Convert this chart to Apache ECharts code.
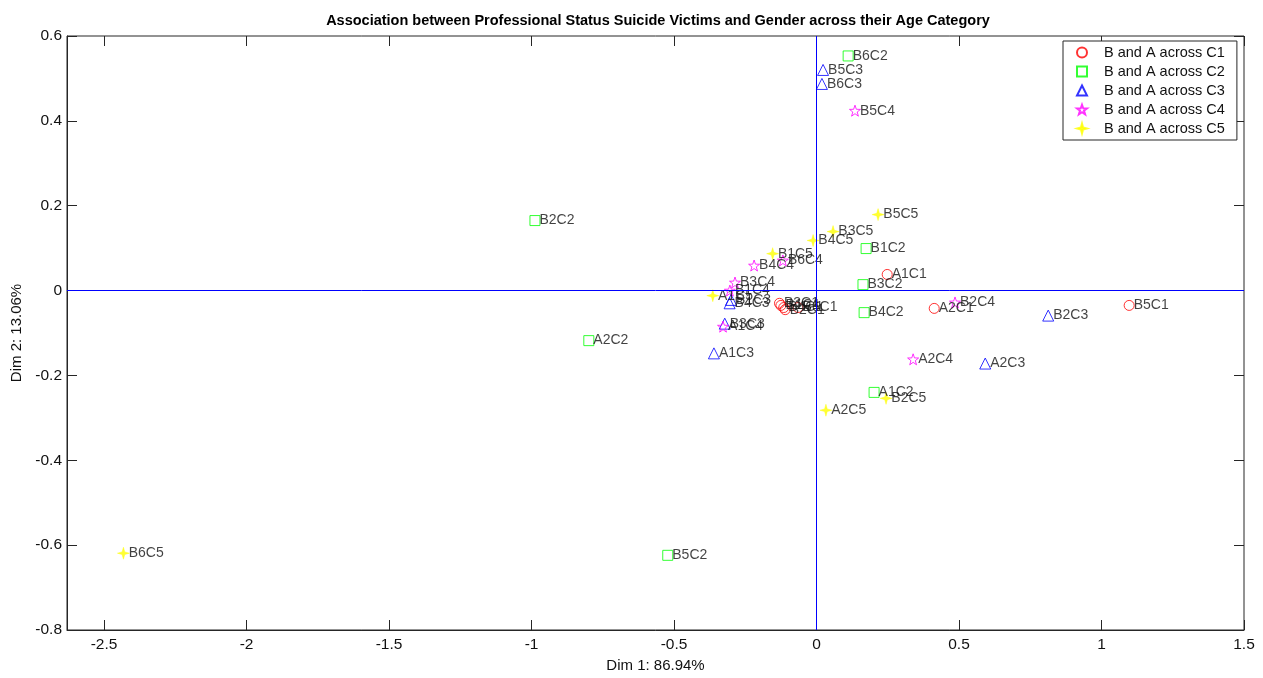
<!DOCTYPE html>
<html>
<head>
<meta charset="utf-8">
<script src="https://cdn.jsdelivr.net/npm/echarts@6/dist/echarts.min.js"></script>
<style>
  html, body { margin: 0; padding: 0; background: #ffffff; }
  #chart { width: 1263px; height: 678px; }
</style>
</head>
<body>
<div id="chart"></div>
<script>
// Correspondence analysis coordinates (Dim 1, Dim 2) per age category
const c1Names = ['A1C1', 'A2C1', 'B1C1', 'B2C1', 'B3C1', 'B4C1', 'B5C1', 'B6C1'];
const c1Dim1  = [0.248, 0.413, -0.125, -0.110, -0.130, -0.115, 1.097, -0.065];
const c1Dim2  = [0.038, -0.042, -0.035, -0.045, -0.030, -0.040, -0.035, -0.040];

const c2Names = ['A1C2', 'A2C2', 'B1C2', 'B2C2', 'B3C2', 'B4C2', 'B5C2', 'B6C2'];
const c2Dim1  = [0.202, -0.799, 0.174, -0.988, 0.163, 0.167, -0.522, 0.111];
const c2Dim2  = [-0.240, -0.118, 0.099, 0.165, 0.014, -0.052, -0.624, 0.553];

const c3Names = ['A1C3', 'A2C3', 'B1C3', 'B2C3', 'B3C3', 'B4C3', 'B5C3', 'B6C3'];
const c3Dim1  = [-0.360, 0.592, -0.300, 0.813, -0.322, -0.305, 0.023, 0.019];
const c3Dim2  = [-0.148, -0.172, -0.022, -0.059, -0.078, -0.030, 0.520, 0.487];

const c4Names = ['A1C4', 'A2C4', 'B1C4', 'B2C4', 'B3C4', 'B4C4', 'B5C4', 'B6C4'];
const c4Dim1  = [-0.328, 0.339, -0.304, 0.486, -0.286, -0.219, 0.135, -0.118];
const c4Dim2  = [-0.085, -0.162, 0.000, -0.028, 0.019, 0.059, 0.424, 0.071];

const c5Names = ['A1C5', 'A2C5', 'B1C5', 'B2C5', 'B3C5', 'B4C5', 'B5C5', 'B6C5'];
const c5Dim1  = [-0.364, 0.033, -0.154, 0.244, 0.058, -0.012, 0.216, -2.432];
const c5Dim2  = [-0.012, -0.282, 0.087, -0.254, 0.139, 0.118, 0.179, -0.619];

const seriesNames = ['B and A across C1', 'B and A across C2', 'B and A across C3',
                     'B and A across C4', 'B and A across C5'];

const FONT = '"Liberation Sans", Arial, sans-serif';
const TEXT = '#000000';
const PENTAGRAM = 'path://M0,-10 L2.35,-3.24 L9.51,-3.09 L3.8,1.24 L5.88,8.09 L0,4 L-5.88,8.09 L-3.8,1.24 L-9.51,-3.09 L-2.35,-3.24 Z';
const SPARK = 'path://M0,-10 L2.2,-2.2 L10,0 L2.2,2.2 L0,10 L-2.2,2.2 L-10,0 L-2.2,-2.2 Z';

function points(names, d1, d2) {
  return names.map((n, i) => ({ name: n, value: [d1[i], d2[i]] }));
}

function scatter(name, data, symbol, size, color, filled) {
  return {
    name: name,
    type: 'scatter',
    data: data,
    symbol: symbol,
    symbolSize: size,
    itemStyle: filled
      ? { color: color, borderColor: color, borderWidth: 0.5 }
      : { color: 'rgba(0,0,0,0)', borderColor: color, borderWidth: 1 },
    label: {
      show: true,
      position: 'right',
      distance: -1,
      formatter: '{b}',
      color: '#111111',
      fontFamily: FONT,
      fontSize: 14
    },
    emphasis: { disabled: true }
  };
}

const GRID = { left: 67, right: 19, top: 36, bottom: 47 };
const TICK = { show: true, inside: true, length: 10, lineStyle: { color: '#262626' } };

const option = {
  backgroundColor: '#ffffff',
  animation: false,
  title: {
    text: 'Association between Professional Status Suicide Victims and Gender across their Age Category',
    left: 653,
    textAlign: 'center',
    top: 8,
    textStyle: { fontFamily: FONT, fontSize: 14.5, fontWeight: 'bold', color: TEXT }
  },
  legend: {
    orient: 'vertical',
    left: 1063,
    top: 41,
    padding: [4, 12, 4, 13],
    itemWidth: 10,
    itemHeight: 10,
    itemGap: 4,
    backgroundColor: '#ffffff',
    borderColor: '#262626',
    borderWidth: 1,
    borderRadius: 0,
    textStyle: { fontFamily: FONT, fontSize: 14.5, color: '#111111', padding: [0, 0, 0, 12] },
    data: seriesNames
  },
  grid: Object.assign({ show: true, borderColor: '#262626', borderWidth: 1, backgroundColor: '#ffffff' }, GRID),
  xAxis: [{
    type: 'value',
    min: -2.63,
    max: 1.5,
    splitNumber: 8,
    minInterval: 0.5,
    maxInterval: 0.5,
    name: 'Dim 1: 86.94%',
    nameLocation: 'middle',
    nameGap: 28,
    nameTextStyle: { fontFamily: FONT, fontSize: 15, color: '#111111' },
    axisLine: { show: true, onZero: false, lineStyle: { color: '#262626' } },
    axisTick: TICK,
    axisLabel: { fontFamily: FONT, fontSize: 15.5, color: '#111111', margin: 7, showMinLabel: false,
                 formatter: v => (Math.abs(v * 2 - Math.round(v * 2)) < 1e-9 ? String(v) : '') },
    splitLine: { show: false }
  }, {
    type: 'value',
    position: 'top',
    min: -2.63,
    max: 1.5,
    splitNumber: 8,
    minInterval: 0.5,
    maxInterval: 0.5,
    axisLine: { show: false, onZero: false },
    axisTick: TICK,
    axisLabel: { show: false },
    splitLine: { show: false }
  }],
  yAxis: [{
    type: 'value',
    min: -0.8,
    max: 0.6,
    interval: 0.2,
    name: 'Dim 2: 13.06%',
    nameLocation: 'middle',
    nameGap: 42,
    nameTextStyle: { fontFamily: FONT, fontSize: 15, color: '#111111' },
    axisLine: { show: true, onZero: false, lineStyle: { color: '#262626' } },
    axisTick: TICK,
    axisLabel: { fontFamily: FONT, fontSize: 15.5, color: '#111111', margin: 5,
                 formatter: v => String(Math.round(v * 10) / 10) },
    splitLine: { show: false }
  }, {
    type: 'value',
    position: 'right',
    min: -0.8,
    max: 0.6,
    interval: 0.2,
    axisLine: { show: false, onZero: false },
    axisTick: TICK,
    axisLabel: { show: false },
    splitLine: { show: false }
  }],
  series: [
    {
      name: 'origin axes',
      type: 'scatter',
      data: [],
      silent: true,
      markLine: {
        silent: true,
        symbol: 'none',
        label: { show: false },
        lineStyle: { color: '#0000ff', width: 1, type: 'solid' },
        data: [{ xAxis: 0 }, { yAxis: 0 }]
      }
    },
    scatter(seriesNames[0], points(c1Names, c1Dim1, c1Dim2), 'circle', 10, '#ff0000', false),
    scatter(seriesNames[1], points(c2Names, c2Dim1, c2Dim2), 'rect', 10, '#00ff00', false),
    scatter(seriesNames[2], points(c3Names, c3Dim1, c3Dim2), 'triangle', 11, '#0000ff', false),
    scatter(seriesNames[3], points(c4Names, c4Dim1, c4Dim2), PENTAGRAM, 11, '#ff00ff', false),
    scatter(seriesNames[4], points(c5Names, c5Dim1, c5Dim2), SPARK, 12, '#ffff00', true)
  ]
};

const chart = echarts.init(document.getElementById('chart'), null, { renderer: 'canvas' });
chart.setOption(option);
</script>
</body>
</html>
